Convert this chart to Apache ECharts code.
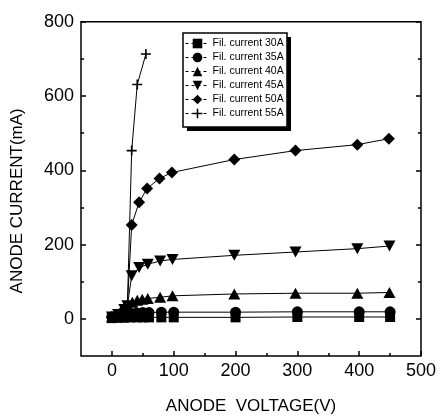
<!DOCTYPE html>
<html>
<head>
<meta charset="utf-8">
<script src="https://cdn.jsdelivr.net/npm/echarts@6/dist/echarts.min.js"></script>
<style>
  html, body { margin: 0; padding: 0; background: #fff; }
  #chart { width: 441px; height: 420px; }
</style>
</head>
<body>
<div id="chart"></div>
<script>
// Anode current vs. anode voltage for several filament currents
const seriesNames = ['Fil. current 30A', 'Fil. current 35A', 'Fil. current 40A',
                     'Fil. current 45A', 'Fil. current 50A', 'Fil. current 55A'];

const volt30 = [0, 10, 20, 30, 40, 50, 60, 80, 100, 200, 300, 400, 450];
const amp30  = [2, 3, 3, 4, 4, 4, 4, 4, 4, 4, 5, 5, 5];

const volt35 = [0, 10, 20, 30, 40, 50, 60, 80, 100, 200, 300, 400, 450];
const amp35  = [5, 9, 13, 15, 16, 17, 17, 18, 18, 18, 19, 19, 19];

const volt40 = [0, 10, 20, 25, 33, 41, 49, 58, 78, 98, 198, 297, 397, 449];
const amp40  = [5, 12, 25, 33, 45, 50, 53, 55, 58, 62, 67, 69, 69, 71];

const volt45 = [0, 10, 20, 25, 32, 44, 58, 78, 98, 198, 297, 397, 449];
const amp45  = [5, 12, 25, 35, 116, 138, 147, 156, 160, 171, 180, 189, 196];

const volt50 = [0, 10, 20, 25, 32, 44, 57, 77, 97, 198, 297, 397, 448];
const amp50  = [5, 12, 25, 35, 253, 314, 351, 378, 394, 429, 453, 469, 485];

const volt55 = [0, 10, 20, 25, 32, 41, 55];
const amp55  = [5, 12, 25, 35, 453, 631, 713];

const xMajorTicks = [0, 100, 200, 300, 400, 500];
const xMinorTicks = [50, 150, 250, 350, 450];
const yMajorTicks = [0, 200, 400, 600, 800];
const yMinorTicks = [100, 300, 500, 700];

const FONT = '"Liberation Sans", Arial, sans-serif';

const symbols = [
  'rect',
  'circle',
  'triangle',
  'path://M0,0L10,0L5,9Z',
  'diamond',
  'path://M4.2,0H5.8V4.2H10V5.8H5.8V10H4.2V5.8H0V4.2H4.2Z'
];
const symbolSizes = [10, 11, [12, 11], [12, 11], 12, 10];
const volts = [volt30, volt35, volt40, volt45, volt50, volt55];
const amps  = [amp30, amp35, amp40, amp45, amp50, amp55];

const pairs = (xs, ys) => xs.map((x, i) => [x, ys[i]]);

const series = seriesNames.map((name, k) => ({
  name,
  type: 'line',
  xAxisIndex: 0,
  yAxisIndex: 0,
  data: pairs(volts[k], amps[k]),
  symbol: symbols[k],
  symbolSize: symbolSizes[k],
  showAllSymbol: true,
  lineStyle: { color: '#000', width: 1 },
  itemStyle: { color: '#000', borderWidth: 0 },
  emphasis: { disabled: true },
  animation: false
}));

const tickStyle = { color: '#000', width: 1.5 };
const hiddenLine = { show: false, onZero: false };

const chart = echarts.init(document.getElementById('chart'), null, { renderer: 'canvas' });
chart.setOption({
  backgroundColor: '#fff',
  animation: false,
  grid: {
    left: 81, right: 20, top: 21.7, bottom: 60.8,
    show: true, borderColor: '#000', borderWidth: 1.5, backgroundColor: 'transparent'
  },
  xAxis: [
    {
      type: 'value', min: -50, max: 500, interval: 50, position: 'bottom',
      axisLine: hiddenLine, splitLine: { show: false },
      axisTick: { inside: true, length: 5, customValues: xMajorTicks, lineStyle: tickStyle },
      axisLabel: { customValues: xMajorTicks, fontSize: 18, color: '#000', fontFamily: FONT, margin: 6 },
      name: 'ANODE  VOLTAGE(V)', nameLocation: 'middle', nameGap: 42,
      nameTextStyle: { fontSize: 17, color: '#000', fontFamily: FONT }
    },
    {
      type: 'value', min: -50, max: 500, interval: 50, position: 'bottom',
      axisLine: hiddenLine, splitLine: { show: false }, axisLabel: { show: false },
      axisTick: { inside: true, length: 3, customValues: xMinorTicks, lineStyle: tickStyle }
    }
  ],
  yAxis: [
    {
      type: 'value', min: -100, max: 800, interval: 100, position: 'left',
      axisLine: hiddenLine, splitLine: { show: false },
      axisTick: { inside: true, length: 5, customValues: yMajorTicks, lineStyle: tickStyle },
      axisLabel: { customValues: yMajorTicks, fontSize: 18, color: '#000', fontFamily: FONT, margin: 7 },
      name: 'ANODE CURRENT(mA)', nameLocation: 'middle', nameGap: 55,
      nameTextStyle: { fontSize: 17, color: '#000', fontFamily: FONT, padding: [0, 24, 0, 0] }
    },
    {
      type: 'value', min: -100, max: 800, interval: 100, position: 'left',
      axisLine: hiddenLine, splitLine: { show: false }, axisLabel: { show: false },
      axisTick: { inside: true, length: 3, customValues: yMinorTicks, lineStyle: tickStyle }
    },
    {
      type: 'value', min: -100, max: 800, interval: 100, position: 'right',
      axisLine: hiddenLine, splitLine: { show: false }, axisLabel: { show: false },
      axisTick: { inside: true, length: 5, customValues: yMajorTicks, lineStyle: tickStyle }
    },
    {
      type: 'value', min: -100, max: 800, interval: 100, position: 'right',
      axisLine: hiddenLine, splitLine: { show: false }, axisLabel: { show: false },
      axisTick: { inside: true, length: 3, customValues: yMinorTicks, lineStyle: tickStyle }
    }
  ],
  legend: {
    data: seriesNames,
    left: 185, top: 38,
    orient: 'vertical',
    itemWidth: 24, itemHeight: 12, itemGap: 3,
    padding: 0,
    textStyle: { fontSize: 10.5, color: '#000', fontFamily: FONT, padding: [0, 0, 0, -2] },
    lineStyle: { type: [3, 3], width: 1, color: '#000' },
    selectedMode: false
  },
  graphic: [
    { type: 'rect', z: 3, shape: { x: 187, y: 37, width: 104, height: 94 }, style: { fill: '#000' } },
    { type: 'rect', z: 3, shape: { x: 183, y: 33, width: 104, height: 94 },
      style: { fill: '#fff', stroke: '#000', lineWidth: 1.5 } }
  ],
  series
});
</script>
</body>
</html>
